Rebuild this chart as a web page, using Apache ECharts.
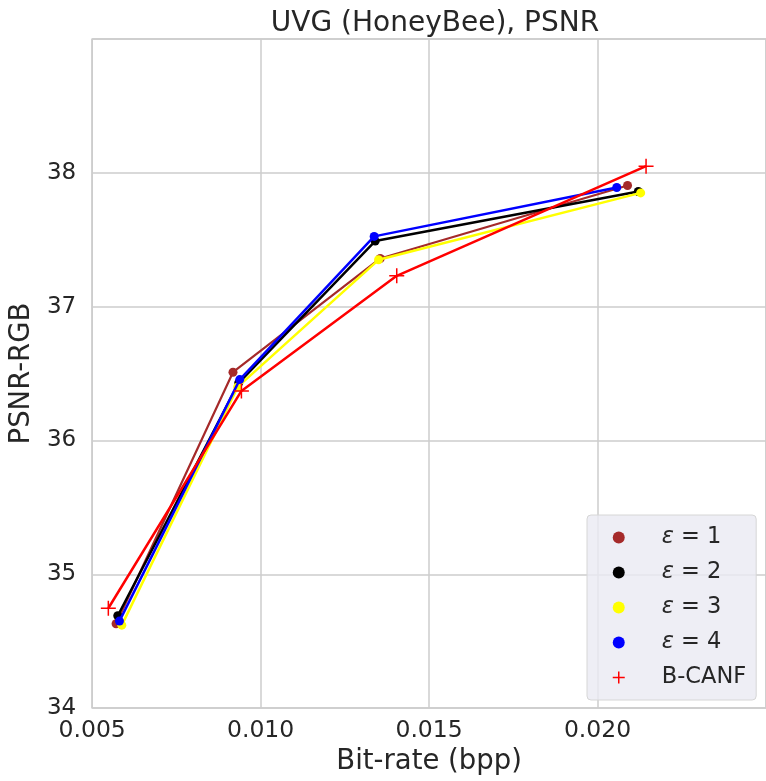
<!DOCTYPE html>
<html>
<head>
<meta charset="utf-8">
<script src="https://cdn.jsdelivr.net/npm/echarts@6/dist/echarts.min.js"></script>
<style>
    html, body { margin: 0; padding: 0; background: #fff; }
    #chart { width: 766px; height: 781px; }
</style>
</head>
<body>
<div id="chart"></div>
<script>
// bit-rate (bpp) and PSNR-RGB per curve
var eps1X = [0.00571, 0.00918, 0.01355, 0.02089];
var eps1Y = [34.63, 36.51, 37.36, 37.905];
var eps2X = [0.00576, 0.00935, 0.01340, 0.02121];
var eps2Y = [34.69, 36.43, 37.49, 37.86];
var eps3X = [0.00588, 0.00932, 0.01350, 0.02128];
var eps3Y = [34.62, 36.40, 37.35, 37.85];
var eps4X = [0.00581, 0.00938, 0.01337, 0.02057];
var eps4Y = [34.65, 36.455, 37.525, 37.89];
var bcanfX = [0.00548, 0.00943, 0.01404, 0.02144];
var bcanfY = [34.746, 36.37, 37.23, 38.05];

var seriesNames = ['ε = 1', 'ε = 2', 'ε = 3', 'ε = 4', 'B-CANF'];
var seriesColors = ['#a52a2a', '#000000', '#ffff00', '#0000ff', '#ff0000'];

var FONT = '"DejaVu Sans", sans-serif';
var TEXT = '#262626';
var PLUS = 'path://M5,0L5,10M0,5L10,5';

function pairs(xs, ys) {
    return xs.map(function(x, i) { return [x, ys[i]]; });
}

var xy = [[eps1X, eps1Y], [eps2X, eps2Y], [eps3X, eps3Y], [eps4X, eps4Y], [bcanfX, bcanfY]];

var series = xy.map(function(d, i) {
    var isPlus = i === 4;
    return {
        name: seriesNames[i],
        type: 'line',
        data: pairs(d[0], d[1]),
        symbol: isPlus ? PLUS : 'circle',
        symbolSize: isPlus ? 15 : 9,
        showAllSymbol: true,
        z: 2 + i,
        lineStyle: { color: seriesColors[i], width: i === 0 ? 2.2 : 2.5 },
        itemStyle: isPlus
            ? { color: seriesColors[i], borderColor: seriesColors[i], borderWidth: 1.5 }
            : { color: seriesColors[i] },
        emphasis: { disabled: true },
        animation: false
    };
});

var legendData = seriesNames.map(function(n, i) {
    return {
        name: n,
        icon: i === 4 ? PLUS : 'circle',
        itemStyle: i === 4
            ? { color: seriesColors[i], borderColor: seriesColors[i], borderWidth: 1.5 }
            : { color: seriesColors[i], borderWidth: 0 }
    };
});

var option = {
    backgroundColor: '#ffffff',
    textStyle: { fontFamily: FONT },
    title: {
        text: 'UVG (HoneyBee), PSNR',
        left: 430,
        textAlign: 'center',
        top: 5,
        textStyle: { fontFamily: FONT, fontSize: 28, fontWeight: 'normal', color: TEXT }
    },
    grid: {
        left: 92, top: 39, bottom: 72, right: -2,
        show: true,
        borderColor: '#cccccc',
        borderWidth: 1.5,
        backgroundColor: '#ffffff'
    },
    legend: {
        orient: 'vertical',
        left: 587,
        top: 515,
        padding: [11, 10, 11, 25],
        itemGap: 12,
        itemWidth: 12,
        itemHeight: 12,
        backgroundColor: 'rgba(234,234,242,0.8)',
        borderColor: '#d6d6d6',
        borderWidth: 1,
        borderRadius: 4,
        data: legendData,
        formatter: function(name) {
            if (name.charAt(0) === 'ε') {
                return '{i|ε}' + name.slice(1);
            }
            return name;
        },
        textStyle: {
            fontFamily: FONT,
            fontSize: 22.5,
            color: TEXT,
            padding: [0, 0, 0, 32],
            lineHeight: 23,
            rich: {
                i: { fontFamily: FONT, fontSize: 22.5, fontStyle: 'italic', color: TEXT }
            }
        }
    },
    xAxis: {
        type: 'value',
        min: 0.005,
        max: 0.025,
        interval: 0.005,
        name: 'Bit-rate (bpp)',
        nameLocation: 'middle',
        nameGap: 37,
        nameTextStyle: { fontFamily: FONT, fontSize: 27.5, color: TEXT },
        axisLine: { show: false },
        axisTick: { show: false },
        axisLabel: {
            fontFamily: FONT, fontSize: 23.5, color: TEXT, margin: 11,
            showMaxLabel: false,
            formatter: function(v) { return v.toFixed(3); }
        },
        splitLine: { show: true, lineStyle: { color: '#cccccc', width: 1.5 } }
    },
    yAxis: {
        type: 'value',
        min: 34,
        max: 39,
        interval: 1,
        name: 'PSNR-RGB',
        nameLocation: 'middle',
        nameGap: 54,
        nameTextStyle: { fontFamily: FONT, fontSize: 27.5, color: TEXT },
        axisLine: { show: false },
        axisTick: { show: false },
        axisLabel: {
            fontFamily: FONT, fontSize: 23, color: TEXT, margin: 16,
            showMaxLabel: false
        },
        splitLine: { show: true, lineStyle: { color: '#cccccc', width: 1.5 } }
    },
    series: series
};

var myChart = echarts.init(document.getElementById('chart'), null, { renderer: 'canvas' });
myChart.setOption(option);
</script>
</body>
</html>
